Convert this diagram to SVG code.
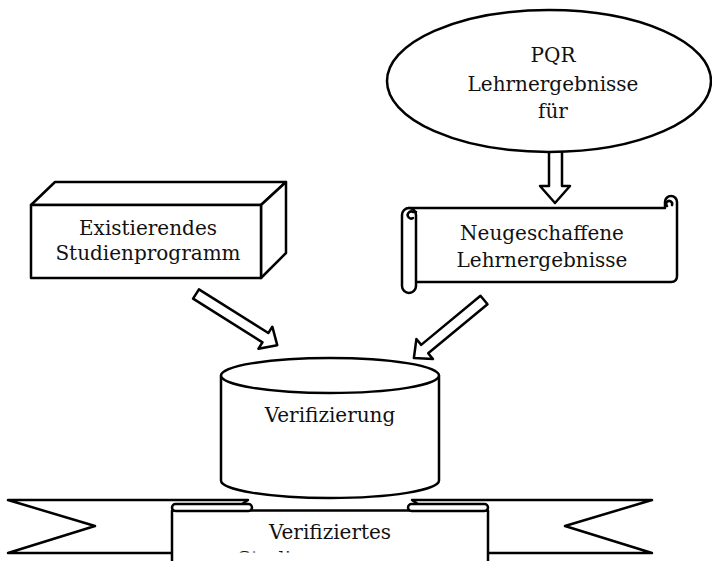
<svg xmlns="http://www.w3.org/2000/svg" width="712" height="561" viewBox="0 0 712 561">
<style>
.s{fill:#fff;stroke:#000;stroke-width:2.5;stroke-linejoin:round}
.l{fill:none;stroke:#000;stroke-width:2.5;stroke-linecap:round}
.t{font-family:"DejaVu Serif","Liberation Serif",serif;font-size:20px;fill:#111;text-anchor:middle}
</style>
<defs>
<clipPath id="panelclip"><rect x="172" y="505" width="316" height="47.5"/></clipPath>
</defs>
<g id="connectors">
<polygon class="s" points="549,140 562,140 562,186 570,186 555,203 540,186 549,186"/>
<polygon class="s" transform="translate(196,294) rotate(32.2)" points="0,-5.5 82,-5.5 82,-13 96,0 82,13 82,5.5 0,5.5"/>
<polygon class="s" transform="translate(484,300) rotate(140.4)" points="0,-5.5 77,-5.5 77,-13 91,0 77,13 77,5.5 0,5.5"/>
</g>
<g id="pqr">
<ellipse class="s" cx="549" cy="81" rx="162" ry="71"/>
<text class="t" x="553" y="62">PQR</text>
<text class="t" x="553" y="91">Lehrnergebnisse</text>
<text class="t" x="553" y="118">für</text>
</g>
<g id="existierendes">
<polygon class="s" points="31,205 55,182 286,182 261,205"/>
<polygon class="s" points="261,205 286,182 286,253 261,278"/>
<rect class="s" x="31" y="205" width="230" height="73"/>
<text class="t" x="148" y="235">Existierendes</text>
<text class="t" x="148" y="260">Studienprogramm</text>
</g>
<g id="neugeschaffene">
<path class="s" d="M409,208 L665,208 L665,202 A6,6 0 0 1 677,202 L677,276 Q677,282 671,282 L409,282 Z"/>
<path class="l" d="M667,206 A3,3 0 1 1 672,205"/>
<rect class="s" x="402" y="208" width="14" height="85" rx="7"/>
<path class="l" d="M413,218 A3.5,3.5 0 1 1 413,212 L416,212"/>
<text class="t" x="542" y="240">Neugeschaffene</text>
<text class="t" x="542" y="267">Lehrnergebnisse</text>
</g>
<g id="verifiziertes">
<polygon class="s" points="172,553 8,553 95,526 8,500 248,500 Q252,500 252,505 L252,511 L172,511"/>
<polygon class="s" points="488,553 652,553 565,526 652,500 412,500 Q408,500 408,505 L408,511 L488,511"/>
<rect class="s" x="172" y="510.5" width="316" height="70"/>
<rect class="s" x="172" y="504" width="80" height="7" rx="3.5"/>
<rect class="s" x="408" y="504" width="80" height="7" rx="3.5"/>
<text class="t" x="330" y="539">Verifiziertes</text>
<text class="t" x="330" y="566" clip-path="url(#panelclip)">Studienprogramm</text>
</g>
<g id="verifizierung">
<path class="s" d="M221,375.5 L221,480.5 A109,17.5 0 0 0 439,480.5 L439,375.5"/>
<ellipse class="s" cx="330" cy="375.5" rx="109" ry="17.5"/>
<text class="t" x="330" y="421.5">Verifizierung</text>
</g>
</svg>
